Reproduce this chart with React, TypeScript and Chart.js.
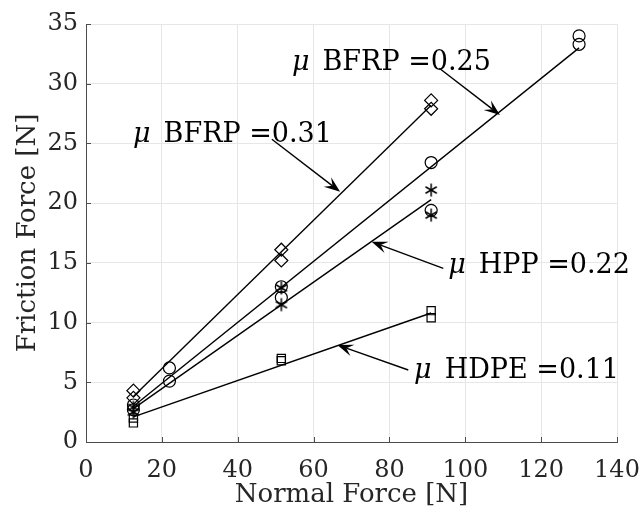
import React, { useEffect, useRef } from 'react';
import { Chart, registerables } from 'chart.js';

Chart.register(...registerables);

// ---- Data ----
const xTickValues = [0, 20, 40, 60, 80, 100, 120, 140];
const yTickValues = [0, 5, 10, 15, 20, 25, 30, 35];

const bfrp31X = [12.5, 12.5, 51.5, 51.5, 91, 91];
const bfrp31Y = [4.3, 3.7, 16.1, 15.2, 28.6, 27.9];

const bfrp25X = [12.5, 12.5, 22, 22, 51.5, 51.5, 91, 91, 130, 130];
const bfrp25Y = [3.1, 2.7, 6.2, 5.1, 13.0, 12.1, 23.4, 19.4, 34.0, 33.3];

const hppX = [12.5, 12.5, 51.5, 51.5, 91, 91];
const hppY = [2.9, 2.5, 12.9, 11.5, 21.1, 19.0];

const hdpeX = [12.5, 12.5, 51.5, 51.5, 91, 91];
const hdpeY = [2.0, 1.6, 7.0, 6.8, 11.0, 10.4];

const fit31X = [12.5, 91];
const fit31Y = [3.8, 28.2];
const fit25X = [12.5, 130];
const fit25Y = [3.0, 33.0];
const fitHppX = [12.5, 91];
const fitHppY = [2.8, 20.3];
const fitHdpeX = [12.5, 91];
const fitHdpeY = [2.1, 10.8];

// annotations (data coordinates)
const annoLabels = ['BFRP =0.31', 'BFRP =0.25', 'HPP =0.22', 'HDPE =0.11'];
const annoTextX = [12.4, 54.3, 95.5, 86.5];
const annoTextY = [25.15, 31.15, 14.13, 5.33];
const arrowTailX = [49.0, 93.15, 94.2, 84.97];
const arrowTailY = [25.35, 31.29, 14.54, 6.03];
const arrowTipX = [67.0, 109.15, 75.3, 66.26];
const arrowTipY = [20.96, 27.38, 16.77, 8.12];

const FONT = '"DejaVu Serif", serif';
const TEXT = '#262626';

const pts = (xs: number[], ys: number[]) => xs.map((x, i) => ({ x, y: ys[i] }));

function makeAsterisk(): HTMLCanvasElement {
  const c = document.createElement('canvas');
  const s = 16;
  c.width = s;
  c.height = s;
  const g = c.getContext('2d')!;
  g.strokeStyle = '#000';
  g.lineWidth = 1.5;
  const cx = s / 2, cy = s / 2, r = 6.5;
  for (let k = 0; k < 3; k++) {
    const a = Math.PI / 2 + (k * Math.PI) / 3;
    g.beginPath();
    g.moveTo(cx + r * Math.cos(a), cy + r * Math.sin(a));
    g.lineTo(cx - r * Math.cos(a), cy - r * Math.sin(a));
    g.stroke();
  }
  return c;
}

const annotationPlugin = {
  id: 'annos',
  afterDraw(chart: any) {
    const ctx = chart.ctx;
    const xs = chart.scales.x;
    const ys = chart.scales.y;
    ctx.save();
    // inner ticks
    ctx.strokeStyle = '#4d4d4d';
    ctx.lineWidth = 1;
    const ca = chart.chartArea;
    xTickValues.forEach((v) => {
      const px = Math.round(xs.getPixelForValue(v)) + 0.5;
      ctx.beginPath();
      ctx.moveTo(px, ca.bottom);
      ctx.lineTo(px, ca.bottom - 5);
      ctx.stroke();
    });
    yTickValues.forEach((v) => {
      const py = Math.round(ys.getPixelForValue(v)) + 0.5;
      ctx.beginPath();
      ctx.moveTo(ca.left, py);
      ctx.lineTo(ca.left + 5, py);
      ctx.stroke();
    });

    ctx.fillStyle = '#000';
    ctx.strokeStyle = '#000';
    ctx.textBaseline = 'alphabetic';
    ctx.textAlign = 'left';
    annoLabels.forEach((label, i) => {
      const tx = xs.getPixelForValue(annoTextX[i]);
      const ty = ys.getPixelForValue(annoTextY[i]);
      ctx.font = `italic 27px ${FONT}`;
      ctx.fillText('μ', tx, ty);
      const w = ctx.measureText('μ').width;
      ctx.font = `27px ${FONT}`;
      ctx.fillText(label, tx + w + 13, ty);

      // arrow
      const ax = xs.getPixelForValue(arrowTailX[i]);
      const ay = ys.getPixelForValue(arrowTailY[i]);
      const bx = xs.getPixelForValue(arrowTipX[i]);
      const by = ys.getPixelForValue(arrowTipY[i]);
      const dx = bx - ax, dy = by - ay;
      const len = Math.hypot(dx, dy);
      const ux = dx / len, uy = dy / len;
      const px = -uy, py = ux;
      const L = 16, W = 6;
      ctx.lineWidth = 1.4;
      ctx.beginPath();
      ctx.moveTo(ax, ay);
      ctx.lineTo(bx - ux * L * 0.6, by - uy * L * 0.6);
      ctx.stroke();
      ctx.beginPath();
      ctx.moveTo(bx, by);
      ctx.lineTo(bx - ux * L + px * W, by - uy * L + py * W);
      ctx.lineTo(bx - ux * L * 0.6, by - uy * L * 0.6);
      ctx.lineTo(bx - ux * L - px * W, by - uy * L - py * W);
      ctx.closePath();
      ctx.fill();
    });
    ctx.restore();
  },
};

export default function App() {
  const ref = useRef<HTMLCanvasElement>(null);

  useEffect(() => {
    const canvas = ref.current!;
    const star = makeAsterisk();
    const markerCommon = {
      showLine: false,
      borderColor: '#000',
      backgroundColor: 'rgba(0,0,0,0)',
      pointBorderColor: '#000',
      pointBackgroundColor: 'rgba(0,0,0,0)',
      pointBorderWidth: 1.2,
    };
    const lineCommon = {
      showLine: true,
      pointRadius: 0,
      borderColor: '#000',
      borderWidth: 1.4,
      backgroundColor: 'rgba(0,0,0,0)',
    };
    const chart = new Chart(canvas, {
      type: 'scatter',
      data: {
        datasets: [
          { ...markerCommon, label: 'BFRP 0.31', data: pts(bfrp31X, bfrp31Y), pointStyle: 'rectRot', pointRadius: 6.5 },
          { ...markerCommon, label: 'BFRP 0.25', data: pts(bfrp25X, bfrp25Y), pointStyle: 'circle', pointRadius: 6 },
          { ...markerCommon, label: 'HPP', data: pts(hppX, hppY), pointStyle: star as any, pointRadius: 7 },
          { ...markerCommon, label: 'HDPE', data: pts(hdpeX, hdpeY), pointStyle: 'rect', pointRadius: 5.8 },
          { ...lineCommon, label: 'fit31', data: pts(fit31X, fit31Y) },
          { ...lineCommon, label: 'fit25', data: pts(fit25X, fit25Y) },
          { ...lineCommon, label: 'fitHpp', data: pts(fitHppX, fitHppY) },
          { ...lineCommon, label: 'fitHdpe', data: pts(fitHdpeX, fitHdpeY) },
        ] as any,
      },
      options: {
        animation: false,
        responsive: false,
        devicePixelRatio: 1,
        layout: { padding: { top: 24, right: 23, left: 0, bottom: 0 } },
        plugins: { legend: { display: false }, tooltip: { enabled: false } },
        scales: {
          x: {
            type: 'linear',
            min: 0,
            max: 140,
            afterBuildTicks: (s: any) => {
              s.ticks = xTickValues.map((v) => ({ value: v }));
            },
            ticks: {
              color: TEXT,
              font: { family: FONT, size: 24 },
              padding: 14,
              maxRotation: 0,
              autoSkip: false,
            },
            grid: { color: '#e6e6e6', lineWidth: 1, drawTicks: false },
            border: { color: '#4d4d4d', width: 1 },
            title: {
              display: true,
              text: 'Normal Force [N]',
              color: TEXT,
              font: { family: FONT, size: 26 },
              padding: { top: 0, bottom: -3 },
            },
            afterFit: (s: any) => {
              s.height = 66;
              s.paddingLeft = 0;
              s.paddingRight = 0;
            },
          },
          y: {
            type: 'linear',
            min: 0,
            max: 35,
            afterBuildTicks: (s: any) => {
              s.ticks = yTickValues.map((v) => ({ value: v }));
            },
            ticks: {
              color: TEXT,
              font: { family: FONT, size: 24 },
              padding: 8,
              autoSkip: false,
            },
            grid: { color: '#e6e6e6', lineWidth: 1, drawTicks: false },
            border: { color: '#4d4d4d', width: 1 },
            title: {
              display: true,
              text: 'Friction Force [N]',
              color: TEXT,
              font: { family: FONT, size: 26 },
              padding: { top: 13, bottom: 0 },
            },
            afterFit: (s: any) => {
              s.width = 86;
              s.paddingTop = 0;
              s.paddingBottom = 0;
            },
          },
        },
      } as any,
      plugins: [annotationPlugin],
    });
    return () => chart.destroy();
  }, []);

  return (
    <div style={{ position: 'absolute', left: 0, top: 0, width: 640, height: 508, background: '#fff' }}>
      <canvas ref={ref} width={640} height={508} style={{ width: 640, height: 508, display: 'block' }} />
    </div>
  );
}
